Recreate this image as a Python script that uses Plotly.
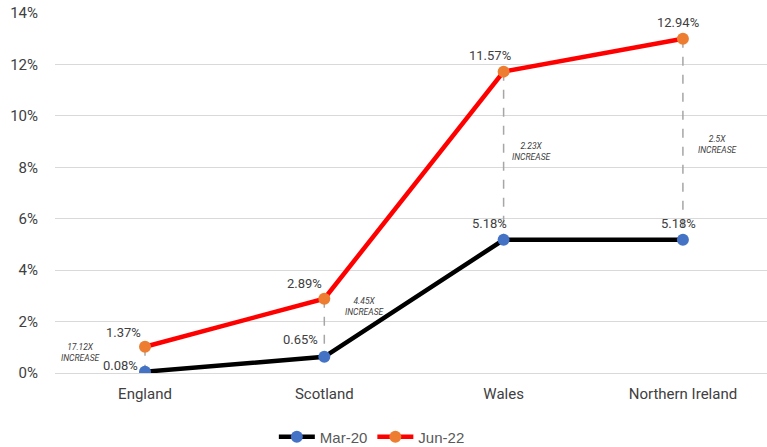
import plotly.graph_objects as go

categories = ["England", "Scotland", "Wales", "Northern Ireland"]
# point positions
mar20_vals = [0.05, 0.63, 5.18, 5.18]
jun22_vals = [1.02, 2.89, 11.72, 13.0]
# label texts shown in the picture
mar20_labels = ["0.08%", "0.65%", "5.18%", "5.18%"]
jun22_labels = ["1.37%", "2.89%", "11.57%", "12.94%"]
increase_labels = ["17.12X<br>INCREASE", "4.45X<br>INCREASE", "2.23X<br>INCREASE", "2.5X<br>INCREASE"]
# vertical extent of dashed connectors
dash_top = [1.02, 2.89, 11.72, 13.0]
dash_bottom = [0.05, 0.9, 5.4, 5.4]
increase_y = [0.8, 2.6, 8.6, 8.9]
y_ticks = [0, 2, 4, 6, 8, 10, 12, 14]
y_tick_text = ["0%", "2%", "4%", "6%", "8%", "10%", "12%", "14%"]

font_main = "Roboto"
fig = go.Figure()

# dashed connectors
dx, dy = [], []
for c, t, b in zip(categories, dash_top, dash_bottom):
    dx += [c, c, None]
    dy += [t, b, None]
fig.add_trace(go.Scatter(x=dx, y=dy, mode="lines", showlegend=False, hoverinfo="skip",
                         line=dict(color="#A6A6A6", width=1.5, dash="dash")))

fig.add_trace(go.Scatter(x=categories, y=mar20_vals, mode="lines+markers", name="Mar-20",
                         line=dict(color="#000000", width=4.5),
                         marker=dict(color="#4472C4", size=12)))
fig.add_trace(go.Scatter(x=categories, y=jun22_vals, mode="lines+markers", name="Jun-22",
                         line=dict(color="#FF0000", width=4.5),
                         marker=dict(color="#ED7D31", size=12)))

ann = []
lab_font = dict(family=font_main, size=13, color="#404040")
jun_shift = [(-22, 14), (-20, 15), (-14, 16), (-5, 16)]
for c, v, t, (xs, ys) in zip(categories, jun22_vals, jun22_labels, jun_shift):
    ann.append(dict(x=c, y=v, text=t, showarrow=False, xshift=xs, yshift=ys, font=lab_font))
mar_shift = [(-25, 6), (-24, 17), (-14, 16), (-4, 16)]
for c, v, t, (xs, ys) in zip(categories, mar20_vals, mar20_labels, mar_shift):
    ann.append(dict(x=c, y=v, text=t, showarrow=False, xshift=xs, yshift=ys, font=lab_font))
inc_shift = [-65, 40, 28, 35]
for c, v, t, xs in zip(categories, increase_y, increase_labels, inc_shift):
    ann.append(dict(x=c, y=v, text="<i>" + t + "</i>", showarrow=False, xshift=xs,
                    font=dict(family=font_main, size=8.5, color="#404040")))

fig.update_layout(
    width=767, height=447,
    margin=dict(l=55, r=0, t=13, b=74, autoexpand=False),
    paper_bgcolor="white", plot_bgcolor="white",
    annotations=ann,
    legend=dict(orientation="h", x=0.445, xanchor="center", y=-0.178, yanchor="middle",
                font=dict(family="Liberation Sans", size=15, color="#595959"),
                itemwidth=36),
    xaxis=dict(range=[-0.502, 3.469], showgrid=False, zeroline=False, showline=False,
               tickfont=dict(family=font_main, size=15, color="#404040"), ticks="",
               ticklabelstandoff=10),
    yaxis=dict(range=[0, 14], tickvals=y_ticks, ticktext=y_tick_text,
               showgrid=True, gridcolor="#D9D9D9", gridwidth=1, zeroline=True,
               zerolinecolor="#D9D9D9", zerolinewidth=1,
               tickfont=dict(family=font_main, size=15, color="#404040"),
               ticklabelstandoff=16),
)

fig.write_html("out.html")
